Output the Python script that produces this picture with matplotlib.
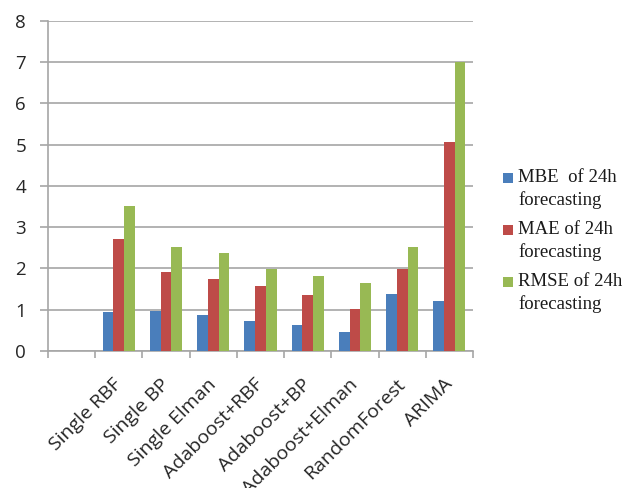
import numpy as np
import matplotlib.pyplot as plt
from matplotlib.patches import Rectangle

# Error metrics of 24h forecasting for each model
models = ['', 'Single RBF', 'Single BP', 'Single Elman', 'Adaboost+RBF',
          'Adaboost+BP', 'Adaboost+Elman', 'RandomForest', 'ARIMA']
mbe = [np.nan, 0.94, 0.98, 0.86, 0.73, 0.63, 0.45, 1.37, 1.22]
mae = [np.nan, 2.72, 1.92, 1.74, 1.57, 1.36, 1.02, 1.98, 5.05]
rmse = [np.nan, 3.51, 2.53, 2.38, 1.99, 1.81, 1.65, 2.53, 6.99]

series_labels = ['MBE  of 24h\nforecasting', 'MAE of 24h\nforecasting', 'RMSE of 24h\nforecasting']
colors = ['#4A7EBB', '#BE4B48', '#98B954']

W, H = 636, 488
fig = plt.figure(figsize=(W / 100, H / 100), dpi=100)
ax = fig.add_axes([48 / W, 1 - 351 / H, (473 - 48) / W, (351 - 20.7) / H])

x = np.arange(len(models))
w = 0.227
for i, (vals, c) in enumerate(zip([mbe, mae, rmse], colors)):
    ax.bar(x + (i - 1) * w, vals, width=w, color=c, edgecolor='none', zorder=3)

ax.set_xlim(-0.5, len(models) - 0.5)
ax.set_ylim(0, 8)
ax.set_yticks(range(0, 9))
ax.grid(axis='y', color='#A6A6A6', linewidth=1.2, zorder=0)

# category boundaries get the tick marks, labels sit at the centres
ax.set_xticks(x)
ax.set_xticklabels(models, rotation=45, ha='right', va='center', rotation_mode='anchor',
                   fontsize=14, color='#262626', family='Open Sans')
ax.set_xticks(np.arange(len(models) + 1) - 0.5, minor=True)
ax.tick_params(axis='x', which='major', length=0, pad=22)
ax.tick_params(axis='x', which='minor', length=5, color='#A6A6A6', width=1.2)
ax.tick_params(axis='y', length=5.8, color='#A6A6A6', width=1.2, pad=10)
for lab in ax.get_yticklabels():
    lab.set_fontsize(13.5)
    lab.set_family('Open Sans')
    lab.set_color('#262626')

for s in ['top', 'right']:
    ax.spines[s].set_visible(False)
for s in ['left', 'bottom']:
    ax.spines[s].set_color('#A6A6A6')
    ax.spines[s].set_linewidth(1.2)

# legend: square key beside the first line of each two-line label
for k, (lab, c) in enumerate(zip(series_labels, colors)):
    y0 = 178 + 52 * k
    fig.add_artist(Rectangle((503 / W, 1 - (y0 + 5) / H), 10 / W, 10 / H,
                             transform=fig.transFigure, facecolor=c, edgecolor='none'))
    for j, line in enumerate(lab.split('\n')):
        fig.text(518 / W, 1 - (y0 + 22 * j) / H, line, ha='left', va='center',
                 family='Liberation Serif', fontsize=13.5, color='#1A1A1A')

fig.savefig('out.png', dpi=100)
